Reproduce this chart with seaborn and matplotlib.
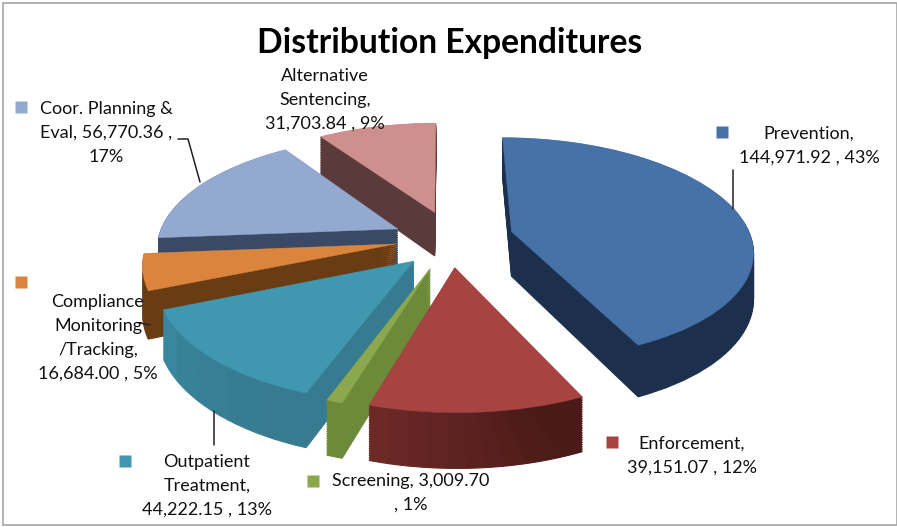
import numpy as np
import seaborn as sns
import matplotlib
matplotlib.use("Agg")
import matplotlib.pyplot as plt
from matplotlib.patches import Rectangle
from matplotlib.transforms import Transform

categories = ["Prevention", "Enforcement", "Screening", "Outpatient Treatment",
              "Compliance Monitoring /Tracking", "Coor. Planning & Eval", "Alternative Sentencing"]
values = [144971.92, 39151.07, 3009.70, 44222.15, 16684.00, 56770.36, 31703.84]
labels = ["Prevention,\n144,971.92 , 43%",
          "Enforcement,\n39,151.07 , 12%",
          "Screening, 3,009.70\n, 1%",
          "Outpatient\nTreatment,\n44,222.15 , 13%",
          "Compliance\nMonitoring\n/Tracking,\n16,684.00 , 5%",
          "Coor. Planning &\nEval, 56,770.36 ,\n17%",
          "Alternative\nSentencing,\n31,703.84 , 9%"]

# look of the slices
top_cols = ["#4672A8", "#A74442", "#8BA84F", "#4097B0", "#DB843D", "#93A9CF", "#CE908F"]
side_cols = [["#1C304D"],
             ["#4A1A18", "#4D1B19", "#501C1A", "#541E1B", "#571F1D", "#5B211E",
              "#5E2320", "#622421", "#652623", "#692825", "#6C2926"],
             ["#6C8A3A"],
             ["#367B90", "#367D92", "#377F95", "#388298", "#3A869C"],
             ["#6A3C14", "#BC7430"],
             ["#3A4A66"],
             ["#5A3A3A"]]
explode = [0.29, 0.25, 0.27, 0.20, 0.19, 0.19, 0.26]
nudge = [(0.005, 0.005), (0.03, 0), (0.035, 0), (0.02, -0.05), (-0.01, 0), (-0.02, 0.01), (0.04, 0)]
radii = [1.0, 1.02, 1.0, 1.02, 1.03, 1.0, 1.0]
draw_order = [6, 5, 4, 3, 2, 1, 0]

label_pos = [(809, 146), (692, 456), (411, 493), (207, 486), (98, 338), (106, 133), (325, 100)]
key_pos = [(722, 132), (612, 442), (313, 481), (125, 461), (21, 282), (21, 107)]
key_idx = [0, 1, 2, 3, 4, 5]
leaders = [([733, 733], [170, 209]),
           ([178, 188, 200], [139, 139, 182]),
           ([140, 150], [323, 325]),
           ([214, 214], [411, 445])]

CX, CY = 443, 239
R, SQUASH, PERSP = 240, 0.46, 0.152
DEPTH = 45
N_LAYERS = 24


class TiltedPlane(Transform):
    # takes the flat pie to picture pixels, tilted and with some perspective
    input_dims = 2
    output_dims = 2
    is_separable = False
    has_inverse = False

    def __init__(self, z=0.0):
        super().__init__()
        self.z = z

    def transform_non_affine(self, xy):
        xy = np.asarray(xy)
        w = 1 + PERSP * xy[:, 1]
        sx = CX + R * xy[:, 0] / w
        sy = CY - R * SQUASH * xy[:, 1] / w + DEPTH * self.z / w
        return np.column_stack([sx, sy])


sns.set_theme(style="white")
plt.rcParams["font.family"] = ["Lato", "DejaVu Sans"]

fig = plt.figure(figsize=(8.97, 5.27), dpi=100)
ax = fig.add_axes([0, 0, 1, 1])

# each slice moves along its own middle angle
fracs = np.array(values) / sum(values)
mids = np.deg2rad(90 - 360 * (np.cumsum(fracs) - fracs / 2))
offsets = [(e * np.cos(m) + n[0], e * np.sin(m) + n[1]) for e, m, n in zip(explode, mids, nudge)]


def draw_slice(i, z, color, part=0, n_parts=1, zorder=1, lw=0.0):
    # a pie of all the values, of which only the wanted wedge stays
    vals = values[:i] + [values[i] / n_parts] * n_parts + values[i + 1:]
    wedges, texts = ax.pie(vals, center=offsets[i], startangle=90, counterclock=False, radius=radii[i])
    for t in texts:
        t.remove()
    for k, w in enumerate(wedges):
        if k != i + part:
            w.remove()
    keep = wedges[i + part]
    keep.set_transform(TiltedPlane(z) + ax.transData)
    keep.set_facecolor(color)
    keep.set_edgecolor(color)
    keep.set_linewidth(lw)
    keep.set_zorder(zorder)


zo = 1
for i in draw_order:
    cols = side_cols[i]
    for part in range(len(cols) - 1, -1, -1):
        for z in np.linspace(1, 0.02, N_LAYERS):
            draw_slice(i, z, cols[part], part, len(cols), zo, 0.8)
            zo += 0.001
    draw_slice(i, 0, top_cols[i], zorder=zo, lw=0.3)
    zo += 1

ax.set_aspect("auto")
ax.set_xlim(0, 897)
ax.set_ylim(527, 0)
ax.axis("off")

ax.add_patch(Rectangle((2.5, 3), 894, 522, fill=False, ec="#A6A6A6", lw=1.2, zorder=50, clip_on=False))

for lx, ly in leaders:
    ax.plot(lx, ly, color="#222222", lw=1.1, zorder=60)

for (kx, ky), i in zip(key_pos, key_idx):
    ax.plot([kx], [ky], marker="s", ms=8.5, mfc=top_cols[i], mec="none", ls="none", zorder=60)

for (tx, ty), lab in zip(label_pos, labels):
    ax.text(tx, ty, lab, ha="center", va="center", fontsize=13, color="#111111",
            linespacing=1.6, zorder=70)

ax.text(450, 43, "Distribution Expenditures", ha="center", va="center",
        fontsize=24.2, fontweight="bold", color="black", zorder=70)

fig.savefig("out.png", dpi=100, facecolor="white")
